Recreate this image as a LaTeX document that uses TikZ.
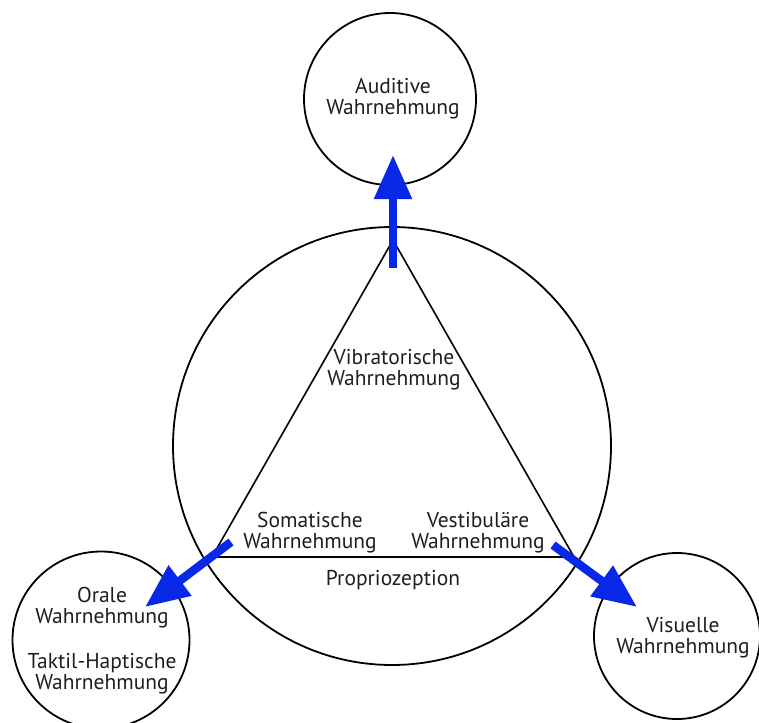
\documentclass[tikz,border=0pt]{standalone}
\usepackage{fontspec}
\setmainfont{PT Sans}
\usetikzlibrary{arrows.meta, positioning, calc}
\definecolor{flowblue}{RGB}{8,40,232}

\begin{document}
\begin{tikzpicture}[
	x=1pt, y=-1pt,
	ring/.style={circle, draw=black, line width=1.8pt, inner sep=0pt},
	sense/.style={align=center, font=\fontsize{21.5}{21}\selectfont, text=black!88, inner sep=0pt},
	flow/.style={-{Triangle[width=36pt, length=44pt]}, line width=8.5pt, draw=flowblue},
	edge/.style={line width=1.6pt, draw=black}
	]
	\useasboundingbox (0,0) rectangle (759,722);

	% --- Circles ---
	\node[ring, minimum size=438pt] (core) at (392,446) {};
	\node[ring, minimum size=172pt] (audit) at (390,99) {};
	\node[ring, minimum size=177pt] (oral) at (101,640) {};
	\node[ring, minimum size=166pt] (visual) at (677,636) {};

	% --- Triangle in the core ---
	\coordinate (apex) at (393,240);
	\coordinate (baseL) at (212,557);
	\coordinate (baseR) at (574,557);
	\draw[edge] (apex) -- (baseL) -- (baseR) -- cycle;

	% --- Texts ---
	\node[sense] (auditTxt) at (393,99) {Auditive\\Wahrnehmung};
	\node[sense] (vibTxt) at (394,370) {Vibratorische\\Wahrnehmung};
	\node[sense] (somTxt) at (310,533) {Somatische\\Wahrnehmung};
	\node[sense] (vestTxt) at (478,533) {Vestibuläre\\Wahrnehmung};
	\node[sense] (propTxt) at (393,580) {Propriozeption};
	\node[sense] (oralTxt) at (102,608) {Orale\\Wahrnehmung};
	\node[sense] (taktTxt) at (102,674) {Taktil-Haptische\\Wahrnehmung};
	\node[sense] (visTxt) at (683,638) {Visuelle\\Wahrnehmung};

	% --- Blue arrows out of the core ---
	\coordinate (upFrom) at (393,268);
	\coordinate (upTo) at (393,155);
	\coordinate (leftFrom) at (231,542);
	\coordinate (leftTo) at (145,607);
	\coordinate (rightFrom) at (553,545);
	\coordinate (rightTo) at (637,607);
	\draw[flow] (upFrom) -- (upTo);
	\draw[flow] (leftFrom) -- (leftTo);
	\draw[flow] (rightFrom) -- (rightTo);
\end{tikzpicture}
\end{document}
